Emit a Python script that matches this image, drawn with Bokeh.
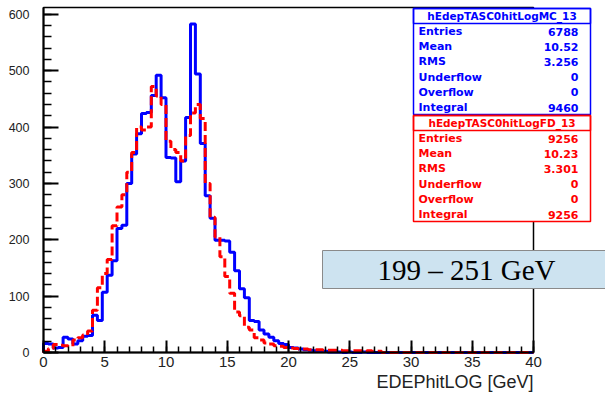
import numpy as np
from bokeh.plotting import figure
from bokeh.models import Range1d, SingleIntervalTicker, BoxAnnotation, Label
from bokeh.embed import file_html
from bokeh.resources import INLINE

# Binning of both histograms: 100 bins between 0 and 40 GeV
x_lo, x_hi, n_bins = 0.0, 40.0, 100

# Simulated (MC) energy deposit per bin, 0.4 GeV wide
mc_counts = [
    16, 15, 8, 9, 27, 24, 15, 21, 29, 30,
    66, 57, 107, 137, 163, 220, 226, 300, 352, 388,
    424, 426, 456, 492, 452, 346, 345, 303, 340, 417,
    583, 494, 371, 278, 238, 199, 199, 198, 178, 145,
    113, 97, 57, 55, 40, 33, 27, 21, 16, 14,
    9, 8, 6, 5, 4, 3, 2, 2, 1, 1,
    1, 0, 1, 0, 0, 1, 0, 0, 0, 0,
    0, 0, 0, 0, 0, 0, 0, 0, 0, 0,
    0, 0, 0, 0, 0, 0, 0, 0, 0, 0,
    0, 0, 0, 0, 0, 0, 0, 0, 0, 0,
]

# Flight data (FD) energy deposit per bin
fd_counts = [
    2, 7, 14, 13, 12, 11, 22, 26, 31, 38,
    75, 115, 140, 165, 225, 258, 280, 320, 355, 400,
    395, 400, 472, 455, 440, 375, 360, 355, 340, 385,
    425, 440, 415, 300, 240, 205, 170, 135, 105, 72,
    65, 45, 40, 26, 22, 17, 15, 12, 11, 9,
    8, 7, 6, 6, 5, 5, 5, 4, 4, 4,
    4, 3, 3, 3, 3, 2, 3, 2, 2, 0,
    0, 0, 0, 0, 0, 0, 0, 0, 0, 0,
    0, 0, 0, 0, 0, 0, 0, 0, 0, 0,
    0, 0, 0, 0, 0, 0, 0, 0, 0, 0,
]

stat_names = ["Entries", "Mean", "RMS", "Underflow", "Overflow", "Integral"]
mc_title = "hEdepTASC0hitLogMC_13"
mc_stats = ["6788", "10.52", "3.256", "0", "0", "9460"]
fd_title = "hEdepTASC0hitLogFD_13"
fd_stats = ["9256", "10.23", "3.301", "0", "0", "9256"]

energy_label = "199 \u2013 251 GeV"
x_title = "EDEPhitLOG [GeV]"

y_max = 1.05 * max(mc_counts)

# Plot-area geometry in screen pixels; the canvas itself is the frame so
# that the stat boxes and the tag may sit outside the histogram area.
FL, FR, FT, FB = 43, 533, 7, 352
W, H = 605, 395


def dx(px):
    return x_lo + (px - FL) / (FR - FL) * (x_hi - x_lo)


def dy(py):
    return (FB - py) / (FB - FT) * y_max


def outline(counts):
    edges = np.linspace(x_lo, x_hi, n_bins + 1)
    xs = np.concatenate([[edges[0]], np.repeat(edges, 2)[1:-1], [edges[-1]]])
    ys = np.concatenate([[0], np.repeat(np.asarray(counts, float), 2), [0]])
    return xs, ys


p = figure(
    frame_width=W, frame_height=H,
    min_border_left=0, min_border_right=0,
    min_border_top=0, min_border_bottom=0,
    x_range=Range1d(dx(0), dx(W)), y_range=Range1d(dy(H), dy(0)),
    output_backend="svg", toolbar_location=None,
)
p.background_fill_color = "white"
p.border_fill_color = "white"
p.outline_line_color = None
p.xgrid.visible = False
p.ygrid.visible = False

# Top and right edges of the histogram frame
p.quad(left=x_lo, right=x_hi, bottom=0, top=y_max,
       fill_color=None, line_color="black", line_width=1.5)

mx, my = outline(mc_counts)
p.line(mx, my, line_color="#0000ff", line_width=3)
fx, fy = outline(fd_counts)
p.line(fx, fy, line_color="#ff0000", line_width=3, line_dash="9 4")

xax, yax = p.xaxis[0], p.yaxis[0]
xax.fixed_location = 0
yax.fixed_location = x_lo
xax.bounds = (x_lo, x_hi)
yax.bounds = (0, y_max)
xax.ticker = SingleIntervalTicker(interval=5, num_minor_ticks=5)
yax.ticker = SingleIntervalTicker(interval=100, num_minor_ticks=5)
for ax in (xax, yax):
    ax.axis_line_color = "black"
    ax.axis_line_width = 2
    ax.major_tick_out = 0
    ax.minor_tick_out = 0
    ax.major_tick_line_width = 2
    ax.minor_tick_line_width = 1.5
    ax.major_label_text_font = "Liberation Sans"
    ax.major_label_text_color = "#222222"
xax.major_tick_in = 12
xax.minor_tick_in = 6
xax.major_label_text_font_size = "15px"
xax.major_label_standoff = 4
yax.major_tick_in = 15
yax.minor_tick_in = 8
yax.major_label_text_font_size = "12.5px"
yax.major_label_standoff = 14

p.add_layout(Label(
    x=x_hi, y=dy(381), text=x_title, text_align="right",
    text_baseline="middle", text_font="Liberation Sans",
    text_font_size="18px", text_color="#222222",
))


def stats_box(top, bottom, color, title, values):
    p.add_layout(BoxAnnotation(
        left=dx(413), right=dx(590), top=dy(top), bottom=dy(bottom),
        fill_color="white", fill_alpha=1.0, line_color=color, line_width=1.5,
        line_alpha=1.0,
    ))
    p.add_layout(BoxAnnotation(
        left=dx(413), right=dx(590), top=dy(top), bottom=dy(top + 15),
        fill_alpha=0.0, line_color=color, line_width=1.5, line_alpha=1.0,
    ))
    p.add_layout(Label(
        x=dx(501.5), y=dy(top + 7), text=title, text_align="center",
        text_baseline="middle", text_font="DejaVu Sans",
        text_font_style="bold", text_font_size="10.5px", text_color=color,
    ))
    for i, (name, val) in enumerate(zip(stat_names, values)):
        yc = top + 23 + i * 15.2
        p.add_layout(Label(
            x=dx(418), y=dy(yc), text=name, text_align="left",
            text_baseline="middle", text_font="DejaVu Sans",
            text_font_style="bold", text_font_size="11px", text_color=color,
        ))
        p.add_layout(Label(
            x=dx(578), y=dy(yc), text=val, text_align="right",
            text_baseline="middle", text_font="DejaVu Sans",
            text_font_style="bold", text_font_size="11px", text_color=color,
        ))


stats_box(8, 114, "#0000ff", mc_title, mc_stats)
stats_box(115, 221, "#ff0000", fd_title, fd_stats)

# Energy-range tag
p.add_layout(BoxAnnotation(
    left=dx(322), right=dx(615), top=dy(250), bottom=dy(288),
    fill_color="#cde3f0", fill_alpha=1.0, line_color="#8a8a8a", line_width=1,
    line_alpha=1.0,
))
p.add_layout(Label(
    x=dx(466), y=dy(269), text=energy_label, text_align="center",
    text_baseline="middle", text_font="Liberation Serif",
    text_font_size="29px", text_color="black",
))

open("out.html", "w").write(file_html(p, INLINE))
